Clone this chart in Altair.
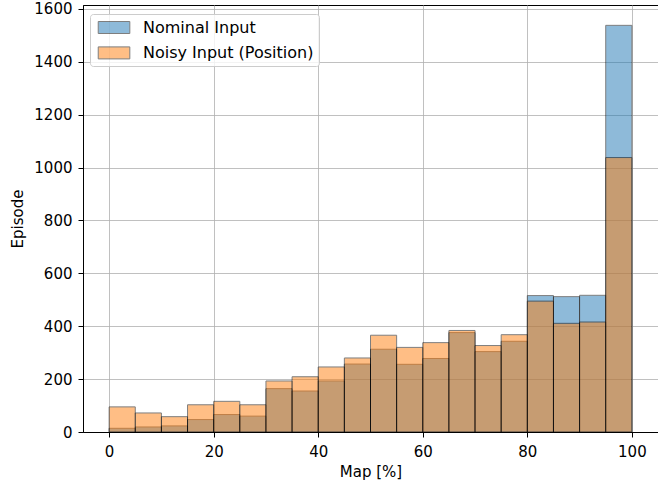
import altair as alt
import pandas as pd

bin_start = [0, 5, 10, 15, 20, 25, 30, 35, 40, 45, 50, 55, 60, 65, 70, 75, 80, 85, 90, 95]
bin_width = 5
nominal = [14, 19, 23, 47, 66, 60, 164, 155, 193, 257, 313, 256, 278, 376, 304, 343, 516, 512, 517, 1538]
noisy = [95, 72, 58, 103, 116, 103, 193, 209, 246, 280, 366, 320, 338, 384, 327, 368, 495, 411, 416, 1038]
series = ["Nominal Input", "Noisy Input (Position)"]
colors = ["#1f77b4", "#ff7f0e"]
x_ticks = [0, 20, 40, 60, 80, 100]
y_ticks = [0, 200, 400, 600, 800, 1000, 1200, 1400, 1600]

rows = []
for k, (name, vals) in enumerate(zip(series, [nominal, noisy])):
    for s, v in zip(bin_start, vals):
        rows.append({"series": name, "start": s, "end": s + bin_width,
                     "count": v, "base": 0, "ord": k})
df = pd.DataFrame(rows)

FONT = "DejaVu Sans"

chart = alt.Chart(df).mark_bar(
    opacity=0.5, stroke="black", strokeWidth=1
).encode(
    x=alt.X("start:Q",
            scale=alt.Scale(domain=[-5, 105], nice=False, zero=False),
            axis=alt.Axis(values=x_ticks, title="Map [%]", labelPadding=7,
                          titlePadding=5, format="d")),
    x2="end:Q",
    y=alt.Y("count:Q",
            scale=alt.Scale(domain=[0, 1615], nice=False),
            axis=alt.Axis(values=y_ticks, title="Episode", labelPadding=6,
                          titlePadding=8, format="d")),
    y2="base:Q",
    color=alt.Color("series:N",
                    scale=alt.Scale(domain=series, range=colors),
                    legend=alt.Legend(
                        title=None, orient="none", legendX=7, legendY=9,
                        fillColor="rgba(255,255,255,0.8)", strokeColor="#cccccc",
                        cornerRadius=3, padding=5,
                        symbolType="M-0.66,-0.75H3.29V0.75H-0.66Z", symbolSize=256,
                        symbolOpacity=0.5, symbolStrokeColor="black",
                        symbolStrokeWidth=1, labelOffset=31, rowPadding=8.4,
                        labelLimit=400,
                        labelFont=FONT, labelFontSize=16, labelColor="black")),
    order=alt.Order("ord:Q"),
).properties(
    width=575, height=427,
    autosize=alt.AutoSizeParams(type="none"),
    padding={"left": 83, "top": 5, "right": 0, "bottom": 55},
).configure_view(
    stroke="black", strokeWidth=1
).configure_axis(
    grid=True, gridColor="#b0b0b0", gridWidth=0.8, zindex=1,
    domainColor="black", domainWidth=1, tickColor="black", tickSize=5,
    labelFont=FONT, labelFontSize=15, labelColor="black",
    titleFont=FONT, titleFontSize=15, titleFontWeight="normal", titleColor="black",
)

chart.save("out.html", embed_options={"renderer": "svg", "actions": False})
